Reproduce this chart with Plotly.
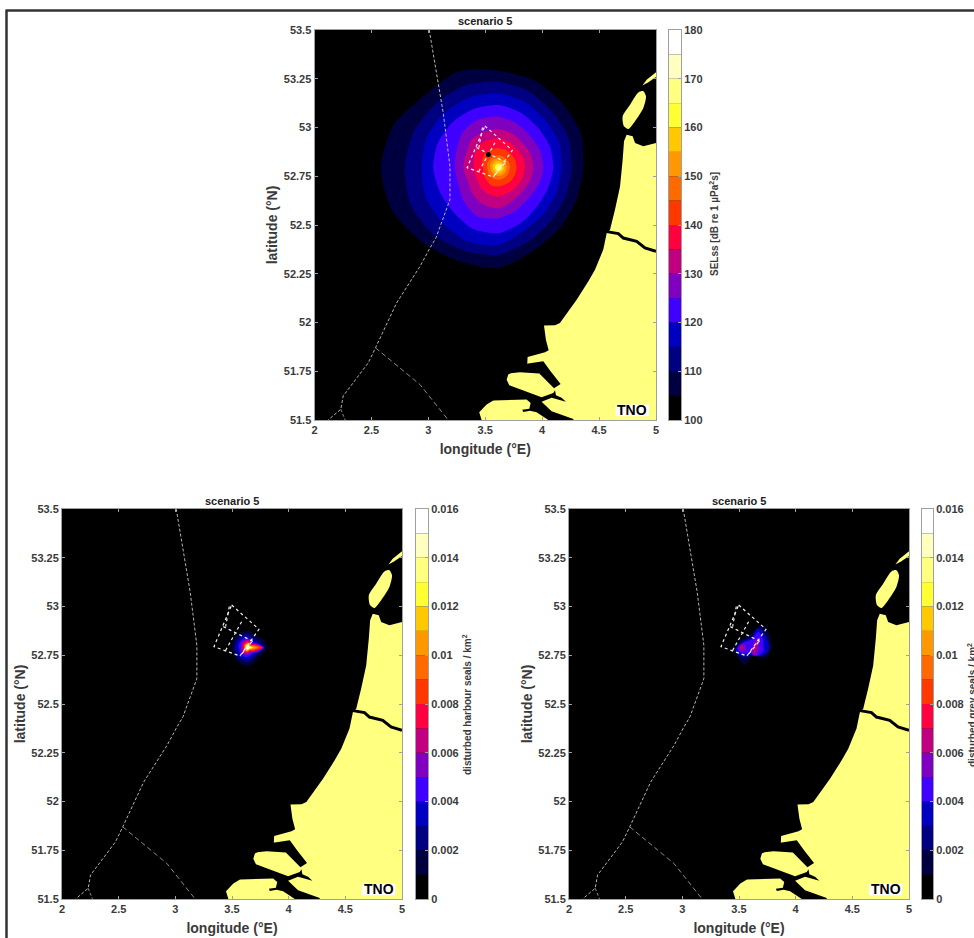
import math
import plotly.graph_objects as go

W, H = 974, 938

# ---------- data ----------
LON_TICKS = [2, 2.5, 3, 3.5, 4, 4.5, 5]
LON_LABELS = ["2", "2.5", "3", "3.5", "4", "4.5", "5"]
LAT_TICKS = [51.5, 51.75, 52, 52.25, 52.5, 52.75, 53, 53.25, 53.5]
LAT_LABELS = ["51.5", "51.75", "52", "52.25", "52.5", "52.75", "53", "53.25", "53.5"]

LEVEL_COLOURS = ["#000000", "#000040", "#000080", "#0000C0", "#4000FF", "#8000C0", "#C00080", "#FF0040",
                 "#FF3800", "#FF6A00", "#FF9800", "#FFC800", "#FFFF33", "#FFFF80", "#FFFFC0", "#FFFFFF"]
SEL_BINS = [100 + 5 * i for i in range(16)]
SEL_TICKS = [100, 110, 120, 130, 140, 150, 160, 170, 180]
SEL_LABELS = ["100", "110", "120", "130", "140", "150", "160", "170", "180"]
SEAL_BINS = [0.001 * i for i in range(16)]
SEAL_TICKS = [0, 0.002, 0.004, 0.006, 0.008, 0.01, 0.012, 0.014, 0.016]
SEAL_LABELS = ["0", "0.002", "0.004", "0.006", "0.008", "0.01", "0.012", "0.014", "0.016"]

LAND_LON = [5, 4.889, 4.816, 4.795, 4.742, 4.719, 4.707, 4.684, 4.640, 4.596, 4.567, 4.537, 4.464, 4.406, 4.303,
            4.156, 4.113, 4.016, 4.033, 4.057, 4.025, 3.872, 3.869, 3.702, 3.688, 3.711, 3.570, 3.512, 3.447, 3.468, 5]
LAND_LAT = [52.921, 52.904, 52.921, 52.955, 52.963, 52.929, 52.835, 52.698, 52.579, 52.476, 52.459, 52.374, 52.271,
            52.211, 52.117, 51.998, 51.986, 51.984, 51.912, 51.858, 51.847, 51.823, 51.789, 51.733, 51.707, 51.678,
            51.600, 51.579, 51.540, 51.5, 51.5]
TEXEL_LON = [4.719, 4.707, 4.772, 4.845, 4.889, 4.912, 4.889, 4.816, 4.757]
TEXEL_LAT = [53.006, 53.057, 53.117, 53.180, 53.186, 53.160, 53.100, 53.032, 52.992]
VLIE_LON = [4.880, 4.918, 5.0, 5.0, 4.933]
VLIE_LAT = [53.215, 53.245, 53.283, 53.259, 53.232]
CHAN_A_LON = [3.863, 4.010, 4.074, 4.162, 4.104, 4.025, 3.975, 3.805, 3.702, 3.68, 3.80]
CHAN_A_LAT = [51.789, 51.801, 51.750, 51.685, 51.663, 51.707, 51.738, 51.745, 51.738, 51.80, 51.83]
CHAN_B_LON = [3.711, 3.834, 3.995, 4.098, 4.113, 4.121, 4.171, 4.209, 4.156, 4.083, 3.995, 4.083, 4.274, 4.274,
              4.054, 3.951, 3.893, 3.834, 3.825, 3.887, 3.899, 3.863, 3.570, 3.50, 3.62]
CHAN_B_LAT = [51.678, 51.651, 51.617, 51.639, 51.653, 51.627, 51.614, 51.593, 51.602, 51.614, 51.593, 51.545,
              51.505, 51.5, 51.5, 51.540, 51.548, 51.541, 51.552, 51.558, 51.587, 51.605, 51.600, 51.64, 51.71]
RIVER_LON = [4.567, 4.669, 4.713, 4.830, 4.903, 5.0]
RIVER_LAT = [52.466, 52.456, 52.433, 52.416, 52.382, 52.365]

BORDER_LON = [3.008, 3.087, 3.131, 3.190, 3.190, 3.067, 3.014, 2.927, 2.721, 2.536, 2.472, 2.252, 2.231, 2.120]
BORDER_LAT = [53.5, 53.211, 53.074, 52.801, 52.630, 52.434, 52.382, 52.288, 52.100, 51.870, 51.793, 51.623, 51.555, 51.5]
BRANCH1_LON = [2.231, 2.269]
BRANCH1_LAT = [51.555, 51.5]
BRANCH2_LON = [2.536, 2.926, 3.175]
BRANCH2_LAT = [51.870, 51.682, 51.5]

FARM_LINES = [
    ([3.497, 3.738, 3.570, 3.341, 3.497], [53.008, 52.883, 52.746, 52.794, 53.008]),
    ([3.423, 3.688], [52.897, 52.820]),
    ([3.585, 3.438], [52.922, 52.769]),
    ([3.476, 3.444], [53.0, 52.897]),
    ([3.673, 3.570], [52.818, 52.746]),
]
SOURCE_LON, SOURCE_LAT = [3.527], [52.861]

SEL_CENTRE = (3.614, 52.796)
# contour reach (1 unit = 0.00293 deg lon / 0.001709 deg lat), at 16 bearings starting East, anticlockwise
SEL_REACH = {
    1: [255, 268, 272, 282, 290, 312, 308, 338, 352, 343, 320, 305, 302, 272, 260, 254],
    2: [220, 228, 232, 245, 257, 265, 268, 275, 280, 285, 280, 270, 263, 240, 225, 220],
    3: [190, 197, 200, 212, 222, 227, 230, 232, 230, 235, 235, 240, 233, 205, 195, 190],
    4: [165, 167, 168, 177, 187, 190, 192, 195, 195, 190, 190, 200, 198, 180, 165, 162],
    5: [135, 135, 134, 142, 152, 155, 150, 135, 130, 130, 145, 160, 153, 140, 130, 132],
    6: [105, 105, 103, 110, 114, 115, 115, 105, 105, 100, 110, 120, 123, 110, 103, 104],
    7: [80, 80, 78, 82, 87, 87, 88, 78, 73, 72, 78, 85, 88, 82, 80, 80],
    8: [55, 55, 55, 57, 57, 58, 58, 52, 45, 48, 52, 58, 58, 56, 56, 55],
    9: [35, 35, 35, 35, 35, 35, 35, 35, 33, 33, 35, 37, 37, 37, 36, 35],
    10: [25, 25, 25, 25, 25, 26, 26, 25, 24, 24, 25, 26, 26, 26, 26, 25],
    11: [18, 18, 18, 18, 18, 18, 18, 18, 17, 17, 18, 18, 18, 18, 18, 18],
    12: [11, 11, 11, 11, 10, 10, 10, 10, 10, 10, 10, 11, 11, 11, 11, 11],
    13: [6, 6, 6, 6, 5, 5, 5, 5, 5, 5, 5, 5, 6, 6, 6, 6],
}
HARBOUR_CENTRE = (3.643, 52.790)
HARBOUR_REACH = {
    1: [57, 52, 45, 45, 50, 50, 50, 50, 50, 50, 52, 55, 55, 50, 42, 48],
    2: [50, 42, 34, 35, 40, 42, 42, 42, 42, 42, 44, 45, 44, 38, 34, 38],
    3: [48, 34, 27, 28, 33, 35, 36, 36, 36, 35, 36, 36, 35, 30, 28, 36],
    4: [47, 30, 22, 23, 28, 30, 30, 30, 28, 28, 30, 30, 28, 23, 24, 33],
    5: [46, 28, 18, 20, 25, 25, 25, 24, 22, 22, 24, 24, 22, 18, 21, 30],
    6: [45, 26, 15, 17, 22, 22, 21, 20, 18, 19, 20, 20, 18, 15, 19, 28],
    7: [44, 23, 12, 15, 19, 18, 18, 17, 15, 16, 17, 17, 15, 12, 17, 25],
    8: [40, 20, 10, 13, 16, 15, 15, 14, 13, 14, 15, 15, 13, 10, 14, 21],
    9: [32, 16, 8, 11, 14, 13, 13, 12, 11, 12, 13, 13, 11, 8, 11, 17],
    10: [24, 12, 7, 9, 12, 11, 11, 10, 10, 10, 11, 11, 9, 7, 8, 13],
    11: [18, 9, 6, 8, 11, 10, 10, 9, 9, 9, 10, 10, 8, 6, 6, 9],
    12: [13, 8, 6, 7, 9, 8, 8, 8, 8, 8, 8, 8, 7, 5, 5, 7],
    13: [10, 6, 5, 6, 8, 7, 7, 7, 7, 7, 7, 7, 6, 5, 4, 6],
    14: [8, 5, 4, 5, 7, 6, 6, 6, 6, 6, 6, 6, 5, 4, 4, 5],
    15: [6, 4, 3, 4, 5, 5, 5, 5, 5, 5, 5, 5, 4, 3, 3, 4],
}
GREY_PATCHES = [
    (1, [3.450, 3.509, 3.597, 3.641, 3.685, 3.729, 3.773, 3.788, 3.729, 3.626, 3.553, 3.479],
        [52.777, 52.828, 52.854, 52.880, 52.905, 52.897, 52.845, 52.786, 52.734, 52.746, 52.700, 52.746]),
    (3, [3.474, 3.524, 3.612, 3.662, 3.700, 3.759, 3.759, 3.700, 3.597, 3.538, 3.485],
        [52.781, 52.820, 52.842, 52.888, 52.880, 52.820, 52.769, 52.746, 52.751, 52.740, 52.760]),
    (4, [3.485, 3.538, 3.612, 3.671, 3.709, 3.715, 3.656, 3.597, 3.538, 3.494],
        [52.786, 52.815, 52.832, 52.871, 52.837, 52.769, 52.746, 52.760, 52.757, 52.769]),
    (5, [3.494, 3.523, 3.559, 3.559, 3.523], [52.789, 52.808, 52.803, 52.777, 52.769]),
    (5, [3.612, 3.635, 3.671, 3.679, 3.656, 3.620], [52.777, 52.820, 52.837, 52.803, 52.751, 52.751]),
    (6, [3.509, 3.532, 3.538, 3.515], [52.794, 52.799, 52.786, 52.781]),
    (6, [3.626, 3.647, 3.662, 3.656, 3.638], [52.769, 52.820, 52.823, 52.786, 52.757]),
]

# ---------- layout (pixel boxes of the panels) ----------
PANELS = [
    dict(n=1, box=(314.5, 656, 30, 420), bar=(669, 681), title_y=21,
         bins=SEL_BINS, step=5, rng=[100, 180], ticks=SEL_TICKS, labels=SEL_LABELS,
         cb_label="SELss [dB re 1 µPa<sup>2</sup>s]", cb_x=714, cb_y=224),
    dict(n=2, box=(62, 402, 509, 899), bar=(416, 428), title_y=501,
         bins=SEAL_BINS, step=0.001, rng=[0, 0.016], ticks=SEAL_TICKS, labels=SEAL_LABELS,
         cb_label="disturbed harbour seals / km<sup>2</sup>", cb_x=467, cb_y=705),
    dict(n=3, box=(569, 909, 509, 899), bar=(922, 933), title_y=501,
         bins=SEAL_BINS, step=0.001, rng=[0, 0.016], ticks=SEAL_TICKS, labels=SEAL_LABELS,
         cb_label="disturbed grey seals / km<sup>2</sup>", cb_x=972, cb_y=705),
]

FONT = "Liberation Sans"
TXT = "#3a3a3a"
AX = "#a0a0a0"
fig = go.Figure()


def fill(ax, lon, lat, colour, spline=False):
    fig.add_trace(go.Scatter(x=lon + lon[:1], y=lat + lat[:1], mode="lines", fill="toself", fillcolor=colour,
                             line=dict(width=0, color=colour, shape="spline" if spline else "linear", smoothing=0.7),
                             xaxis=f"x{ax}", yaxis=f"y{ax}", hoverinfo="skip", showlegend=False))


def line(ax, lon, lat, colour, width, dash="solid"):
    fig.add_trace(go.Scatter(x=lon, y=lat, mode="lines", line=dict(color=colour, width=width, dash=dash),
                             xaxis=f"x{ax}", yaxis=f"y{ax}", hoverinfo="skip", showlegend=False))


def polar(centre, reach):
    n = len(reach)
    lon = [centre[0] + r * 0.00293 * math.cos(2 * math.pi * i / n) for i, r in enumerate(reach)]
    lat = [centre[1] + r * 0.001709 * math.sin(2 * math.pi * i / n) for i, r in enumerate(reach)]
    return lon, lat


for lvl in sorted(SEL_REACH):
    fill(1, *polar(SEL_CENTRE, SEL_REACH[lvl]), LEVEL_COLOURS[lvl], spline=True)
for lvl in sorted(HARBOUR_REACH):
    fill(2, *polar(HARBOUR_CENTRE, HARBOUR_REACH[lvl]), LEVEL_COLOURS[lvl], spline=True)
for lvl, lon, lat in GREY_PATCHES:
    fill(3, lon, lat, LEVEL_COLOURS[lvl], spline=True)

layout = dict(
    width=W, height=H, margin=dict(l=0, r=0, t=0, b=0, autoexpand=False), paper_bgcolor="white", plot_bgcolor="black",
    barmode="overlay", showlegend=False, shapes=[], annotations=[],
)

for p in PANELS:
    n = p["n"]
    x0, x1, y0, y1 = p["box"]
    fill(n, LAND_LON, LAND_LAT, "#FFFF80")
    fill(n, TEXEL_LON, TEXEL_LAT, "#FFFF80", spline=True)
    fill(n, VLIE_LON, VLIE_LAT, "#FFFF80")
    fill(n, CHAN_A_LON, CHAN_A_LAT, "#000000")
    fill(n, CHAN_B_LON, CHAN_B_LAT, "#000000")
    line(n, RIVER_LON, RIVER_LAT, "#000000", 3)
    line(n, BORDER_LON, BORDER_LAT, "#b4b4b4", 1, "3px,2px")
    line(n, BRANCH1_LON, BRANCH1_LAT, "#8a8a8a", 1, "3px,2px")
    line(n, BRANCH2_LON, BRANCH2_LAT, "#8a8a8a", 1, "5px,3px")
    for lon, lat in FARM_LINES:
        line(n, lon, lat, "#f0f0f0", 1.2, "3px,3px")

    tick = dict(ticks="inside", ticklen=3, tickwidth=1, tickcolor=AX, showgrid=False, zeroline=False,
                showline=True, linecolor=AX, linewidth=1, mirror="allticks", automargin=False,
                tickfont=dict(family=FONT, size=11, color=TXT, weight="bold"))
    title_font = dict(family=FONT, size=14, color=TXT, weight="bold")
    layout[f"xaxis{n}"] = dict(domain=[x0 / W, x1 / W], range=[2, 5], anchor=f"y{n}", tickvals=LON_TICKS,
                               ticktext=LON_LABELS, title=dict(text="longitude (°E)", font=title_font, standoff=8),
                               **tick)
    layout[f"yaxis{n}"] = dict(domain=[1 - y1 / H, 1 - y0 / H], range=[51.5, 53.5], anchor=f"x{n}", tickvals=LAT_TICKS,
                               ticktext=LAT_LABELS,
                               title=dict(text="latitude (°N)", font=title_font, standoff=2), **tick)

    # colour bar
    bx, by = n + 3, n + 3
    fig.add_trace(go.Bar(x=[0] * len(p["bins"]), y=[p["step"]] * len(p["bins"]), base=p["bins"], width=1,
                         marker=dict(color=LEVEL_COLOURS, line=dict(width=0)),
                         xaxis=f"x{bx}", yaxis=f"y{by}", hoverinfo="skip", showlegend=False))
    layout[f"xaxis{bx}"] = dict(domain=[p["bar"][0] / W, p["bar"][1] / W], range=[-0.5, 0.5], anchor=f"y{by}",
                                showticklabels=False, ticks="", showgrid=False, zeroline=False, showline=True,
                                linecolor=AX, linewidth=1, mirror=True)
    layout[f"yaxis{by}"] = dict(domain=[1 - y1 / H, 1 - y0 / H], range=p["rng"], anchor=f"x{bx}", side="right",
                                tickvals=p["ticks"], ticktext=p["labels"], ticks="inside", ticklen=3, tickcolor=AX,
                                showgrid=False, zeroline=False, showline=True, linecolor=AX, linewidth=1, mirror=True,
                                automargin=False, tickfont=dict(family=FONT, size=11, color=TXT, weight="bold"))

    layout["annotations"] += [
        dict(text="scenario 5", x=(x0 + x1) / 2 / W, y=1 - p["title_y"] / H, xref="paper", yref="paper",
             xanchor="center", yanchor="middle", showarrow=False, font=dict(family=FONT, size=11, color="#222", weight="bold")),
        dict(text=p["cb_label"], x=p["cb_x"] / W, y=1 - p["cb_y"] / H, xref="paper", yref="paper", textangle=-90,
             xanchor="center", yanchor="middle", showarrow=False, font=dict(family=FONT, size=10, color=TXT, weight="bold")),
        dict(text="TNO", x=4.793, y=51.549, xref=f"x{n}", yref=f"y{n}", showarrow=False,
             font=dict(family=FONT, size=14, color="black", weight="bold")),
    ]
    layout["shapes"].append(dict(type="rect", xref=f"x{n}", yref=f"y{n}", x0=4.646, x1=4.939, y0=51.519, y1=51.579,
                                 fillcolor="white", line=dict(width=0), layer="above"))

fig.add_trace(go.Scatter(x=SOURCE_LON, y=SOURCE_LAT, mode="markers", marker=dict(color="black", size=5),
                         xaxis="x1", yaxis="y1", hoverinfo="skip", showlegend=False))

# frame of the surrounding page
layout["shapes"] += [
    dict(type="line", xref="paper", yref="paper", x0=5.5 / W, x1=1, y0=1 - 10.5 / H, y1=1 - 10.5 / H,
         line=dict(color="#333333", width=2.5)),
    dict(type="line", xref="paper", yref="paper", x0=6.5 / W, x1=6.5 / W, y0=0, y1=1 - 10.5 / H,
         line=dict(color="#333333", width=2.5)),
]

fig.update_layout(**layout)
fig.write_html("out.html", config={"displayModeBar": False},
               post_script="document.body.style.margin='0';document.body.style.overflow='hidden';")
